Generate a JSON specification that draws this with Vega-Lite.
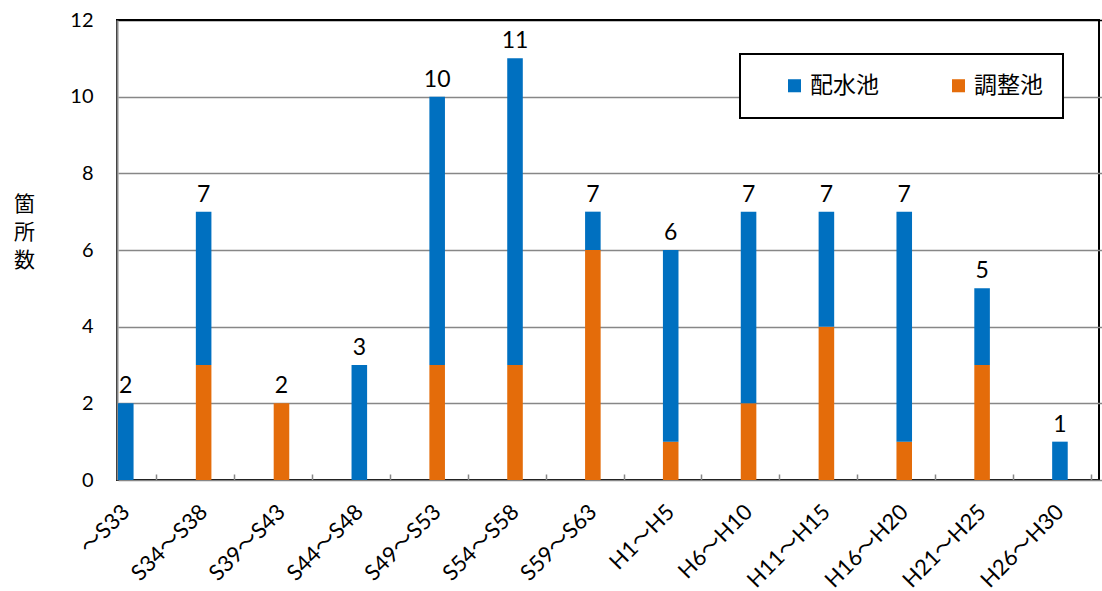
{
  "$schema": "https://vega.github.io/schema/vega-lite/v6.json",
  "width": 982,
  "height": 460,
  "autosize": {"type": "none"},
  "padding": {"left": 117, "top": 20, "right": 3, "bottom": 111},
  "background": "white",
  "config": {
    "view": {"stroke": "black", "strokeWidth": 2},
    "font": "Lato, Noto Sans CJK JP",
    "legend": {"strokeWidth": 2}
  },
  "data": {
    "values": [
      {"period": "～S33", "type": "配水池", "count": 2},
      {"period": "S34～S38", "type": "調整池", "count": 3},
      {"period": "S34～S38", "type": "配水池", "count": 4},
      {"period": "S39～S43", "type": "調整池", "count": 2},
      {"period": "S44～S48", "type": "配水池", "count": 3},
      {"period": "S49～S53", "type": "調整池", "count": 3},
      {"period": "S49～S53", "type": "配水池", "count": 7},
      {"period": "S54～S58", "type": "調整池", "count": 3},
      {"period": "S54～S58", "type": "配水池", "count": 8},
      {"period": "S59～S63", "type": "調整池", "count": 6},
      {"period": "S59～S63", "type": "配水池", "count": 1},
      {"period": "H1～H5", "type": "調整池", "count": 1},
      {"period": "H1～H5", "type": "配水池", "count": 5},
      {"period": "H6～H10", "type": "調整池", "count": 2},
      {"period": "H6～H10", "type": "配水池", "count": 5},
      {"period": "H11～H15", "type": "調整池", "count": 4},
      {"period": "H11～H15", "type": "配水池", "count": 3},
      {"period": "H16～H20", "type": "調整池", "count": 1},
      {"period": "H16～H20", "type": "配水池", "count": 6},
      {"period": "H21～H25", "type": "調整池", "count": 3},
      {"period": "H21～H25", "type": "配水池", "count": 2},
      {"period": "H26～H30", "type": "配水池", "count": 1}
    ]
  },
  "encoding": {
    "x": {
      "field": "period",
      "type": "nominal",
      "scale": {
        "domain": ["～S33", "S34～S38", "S39～S43", "S44～S48", "S49～S53", "S54～S58", "S59～S63", "H1～H5", "H6～H10", "H11～H15", "H16～H20", "H21～H25", "H26～H30"],
        "range": [1, 1013],
        "paddingInner": 0,
        "paddingOuter": 0
      },
      "axis": {
        "title": null,
        "domain": false,
        "grid": false,
        "labelAngle": -45,
        "labelFontSize": 22,
        "labelColor": "black",
        "labelOffset": -38,
        "labelPadding": 27,
        "tickColor": "#878787",
        "tickWidth": 1.5,
        "tickSize": -6
      }
    },
    "xOffset": {
      "datum": "a",
      "type": "nominal",
      "scale": {"domain": ["a", "b", "c", "d", "e"], "paddingInner": 0, "paddingOuter": 0}
    }
  },
  "layer": [
    {
      "mark": {"type": "bar"},
      "encoding": {
        "y": {
          "field": "count",
          "type": "quantitative",
          "stack": "zero",
          "scale": {"domain": [0, 12]},
          "axis": {
            "values": [0, 2, 4, 6, 8, 10, 12],
            "title": ["箇", "所", "数"],
            "titleAngle": 0,
            "titleX": -93,
            "titleY": 173,
            "titleAlign": "center",
            "titleBaseline": "top",
            "titleFontSize": 21,
            "titleFontWeight": "normal",
            "titleFont": "Noto Sans CJK JP",
            "titleLineHeight": 28,
            "titleColor": "black",
            "labelFontSize": 20,
            "labelColor": "black",
            "labelPadding": 24,
            "ticks": false,
            "domainColor": "#878787",
            "domainWidth": 2,
            "gridColor": {"condition": {"test": "datum.value === 12", "value": "black"}, "value": "#878787"},
            "gridWidth": 1.5
          }
        },
        "color": {
          "field": "type",
          "type": "nominal",
          "scale": {"domain": ["配水池", "調整池"], "range": ["#0070C0", "#E46C0A"]},
          "legend": {
            "orient": "none",
            "legendX": 623,
            "legendY": 34,
            "direction": "horizontal",
            "title": null,
            "strokeColor": "black",
            "fillColor": "white",
            "padding": 20,
            "symbolType": "square",
            "symbolSize": 170,
            "symbolStrokeWidth": 0,
            "symbolOffset": 23,
            "labelOffset": 4,
            "labelFontSize": 23,
            "labelFont": "Noto Sans CJK JP",
            "labelColor": "black",
            "columnPadding": 45
          }
        },
        "order": {"field": "type", "sort": "ascending"}
      }
    },
    {
      "mark": {"type": "text", "dy": -17, "fontSize": 23, "color": "black"},
      "encoding": {
        "y": {"aggregate": "sum", "field": "count", "type": "quantitative"},
        "text": {"aggregate": "sum", "field": "count", "type": "quantitative"}
      }
    }
  ]
}
